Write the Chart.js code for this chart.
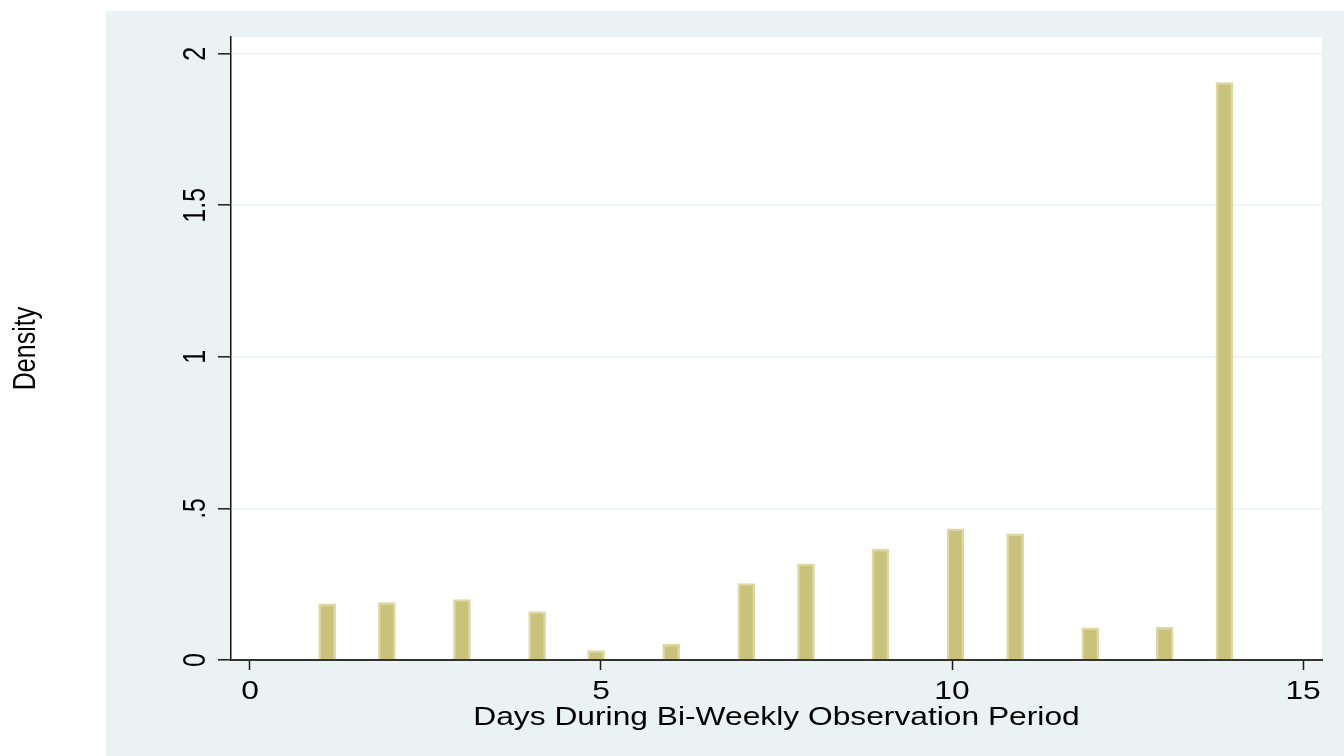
<!DOCTYPE html>
<html>
<head>
<meta charset="utf-8">
<title>Days During Bi-Weekly Observation Period</title>
<script src="https://cdn.jsdelivr.net/npm/chart.js@4/dist/chart.umd.min.js"></script>
<style>
  html, body { margin: 0; padding: 0; background: #ffffff; }
  canvas { display: block; }
</style>
</head>
<body>
<canvas id="hist" width="1344" height="756"></canvas>
<script>
// Histogram bins: midpoints of the occupied bins and their density heights
const binMids = [1.10, 1.95, 3.02, 4.09, 4.93, 6.00, 7.07, 7.92, 8.98, 10.05, 10.90, 11.97, 13.03, 13.88];
const density = [0.185, 0.189, 0.199, 0.160, 0.031, 0.052, 0.252, 0.317, 0.366, 0.433, 0.416, 0.106, 0.108, 1.905];
const binWidth = 0.213;

// Axis ticks and titles
const xTickValues = [0, 5, 10, 15];
const xTickLabels = ['0', '5', '10', '15'];
const yTickValues = [0, 0.5, 1, 1.5, 2];
const yTickLabels = ['0', '.5', '1', '1.5', '2'];
const xTitle = 'Days During Bi-Weekly Observation Period';
const yTitle = 'Density';

// Look of the graph
const regionColor = '#EAF2F3';
const barFill = '#C9C27D';
const barEdge = '#DCD7A3';
const axisColor = '#1a1a1a';
const FONT = '25px "Liberation Sans", Arial, Helvetica, sans-serif';
const STRETCH = 1.27; // glyphs are drawn wider than tall

// Paint the outer region and the white plot area behind everything
const backdrop = {
  id: 'backdrop',
  beforeDraw(chart) {
    const { ctx, chartArea: a } = chart;
    ctx.save();
    ctx.fillStyle = '#ffffff';
    ctx.fillRect(0, 0, chart.width, chart.height);
    ctx.fillStyle = regionColor;
    ctx.fillRect(106, 11, chart.width - 106, chart.height - 11);
    ctx.fillStyle = '#ffffff';
    ctx.fillRect(a.left, a.top, a.right - a.left, a.bottom - a.top);
    ctx.restore();
  }
};

// Tick labels and axis titles, placed from the chart's own scales
const axisText = {
  id: 'axisText',
  afterDraw(chart) {
    const { ctx, chartArea: a, scales: { x, y } } = chart;
    ctx.save();
    ctx.fillStyle = '#000000';
    ctx.font = FONT;

    // x tick labels
    ctx.textAlign = 'center';
    ctx.textBaseline = 'alphabetic';
    xTickValues.forEach((v, i) => {
      ctx.save();
      ctx.translate(x.getPixelForValue(v), 699);
      ctx.scale(STRETCH, 1);
      ctx.fillText(xTickLabels[i], 0, 0);
      ctx.restore();
    });

    // x title
    ctx.save();
    ctx.translate((a.left + a.right) / 2, 725);
    ctx.scale(STRETCH, 1);
    ctx.fillText(xTitle, 0, 0);
    ctx.restore();

    // y tick labels, rotated to read upwards
    yTickValues.forEach((v, i) => {
      ctx.save();
      ctx.translate(205, y.getPixelForValue(v));
      ctx.scale(STRETCH, 1);
      ctx.rotate(-Math.PI / 2);
      ctx.fillText(yTickLabels[i], 0, 0);
      ctx.restore();
    });

    // y title
    ctx.save();
    ctx.translate(35, (a.top + a.bottom) / 2);
    ctx.scale(STRETCH, 1);
    ctx.rotate(-Math.PI / 2);
    ctx.fillText(yTitle, 0, 0);
    ctx.restore();

    ctx.restore();
  }
};

new Chart(document.getElementById('hist'), {
  type: 'bar',
  data: {
    datasets: [{
      data: binMids.map((m, i) => ({ x: m, y: density[i] })),
      backgroundColor: barFill,
      borderColor: barEdge,
      borderWidth: 2.5,
      borderSkipped: 'start',
      barThickness(ctx) {
        const s = ctx.chart.scales.x;
        if (!s) return 17;
        return Math.abs(s.getPixelForValue(binWidth) - s.getPixelForValue(0)) + 2;
      }
    }]
  },
  options: {
    responsive: false,
    devicePixelRatio: 1,
    animation: false,
    events: [],
    layout: { padding: { left: 0, top: 37, right: 22, bottom: 0 } },
    plugins: {
      legend: { display: false },
      tooltip: { enabled: false },
      title: { display: false }
    },
    scales: {
      x: {
        type: 'linear',
        min: -0.27,
        max: 15.27,
        offset: false,
        afterBuildTicks(scale) { scale.ticks = xTickValues.map(v => ({ value: v })); },
        afterFit(scale) { scale.height = 96; },
        ticks: { display: false },
        grid: {
          offset: false,
          drawOnChartArea: false,
          drawTicks: true,
          tickLength: 10,
          tickColor: axisColor,
          tickWidth: 1.5
        },
        border: { display: true, color: '#333333', width: 2, z: 1 }
      },
      y: {
        type: 'linear',
        min: 0,
        max: 2.055,
        afterBuildTicks(scale) { scale.ticks = yTickValues.map(v => ({ value: v })); },
        afterFit(scale) { scale.width = 231; },
        ticks: { display: false },
        grid: {
          color: regionColor,
          lineWidth: 1.6,
          drawTicks: true,
          tickLength: 13,
          tickColor: axisColor,
          tickWidth: 1.5
        },
        border: { display: true, color: '#111111', width: 1.5, z: 1 }
      }
    }
  },
  plugins: [backdrop, axisText]
});
</script>
</body>
</html>
